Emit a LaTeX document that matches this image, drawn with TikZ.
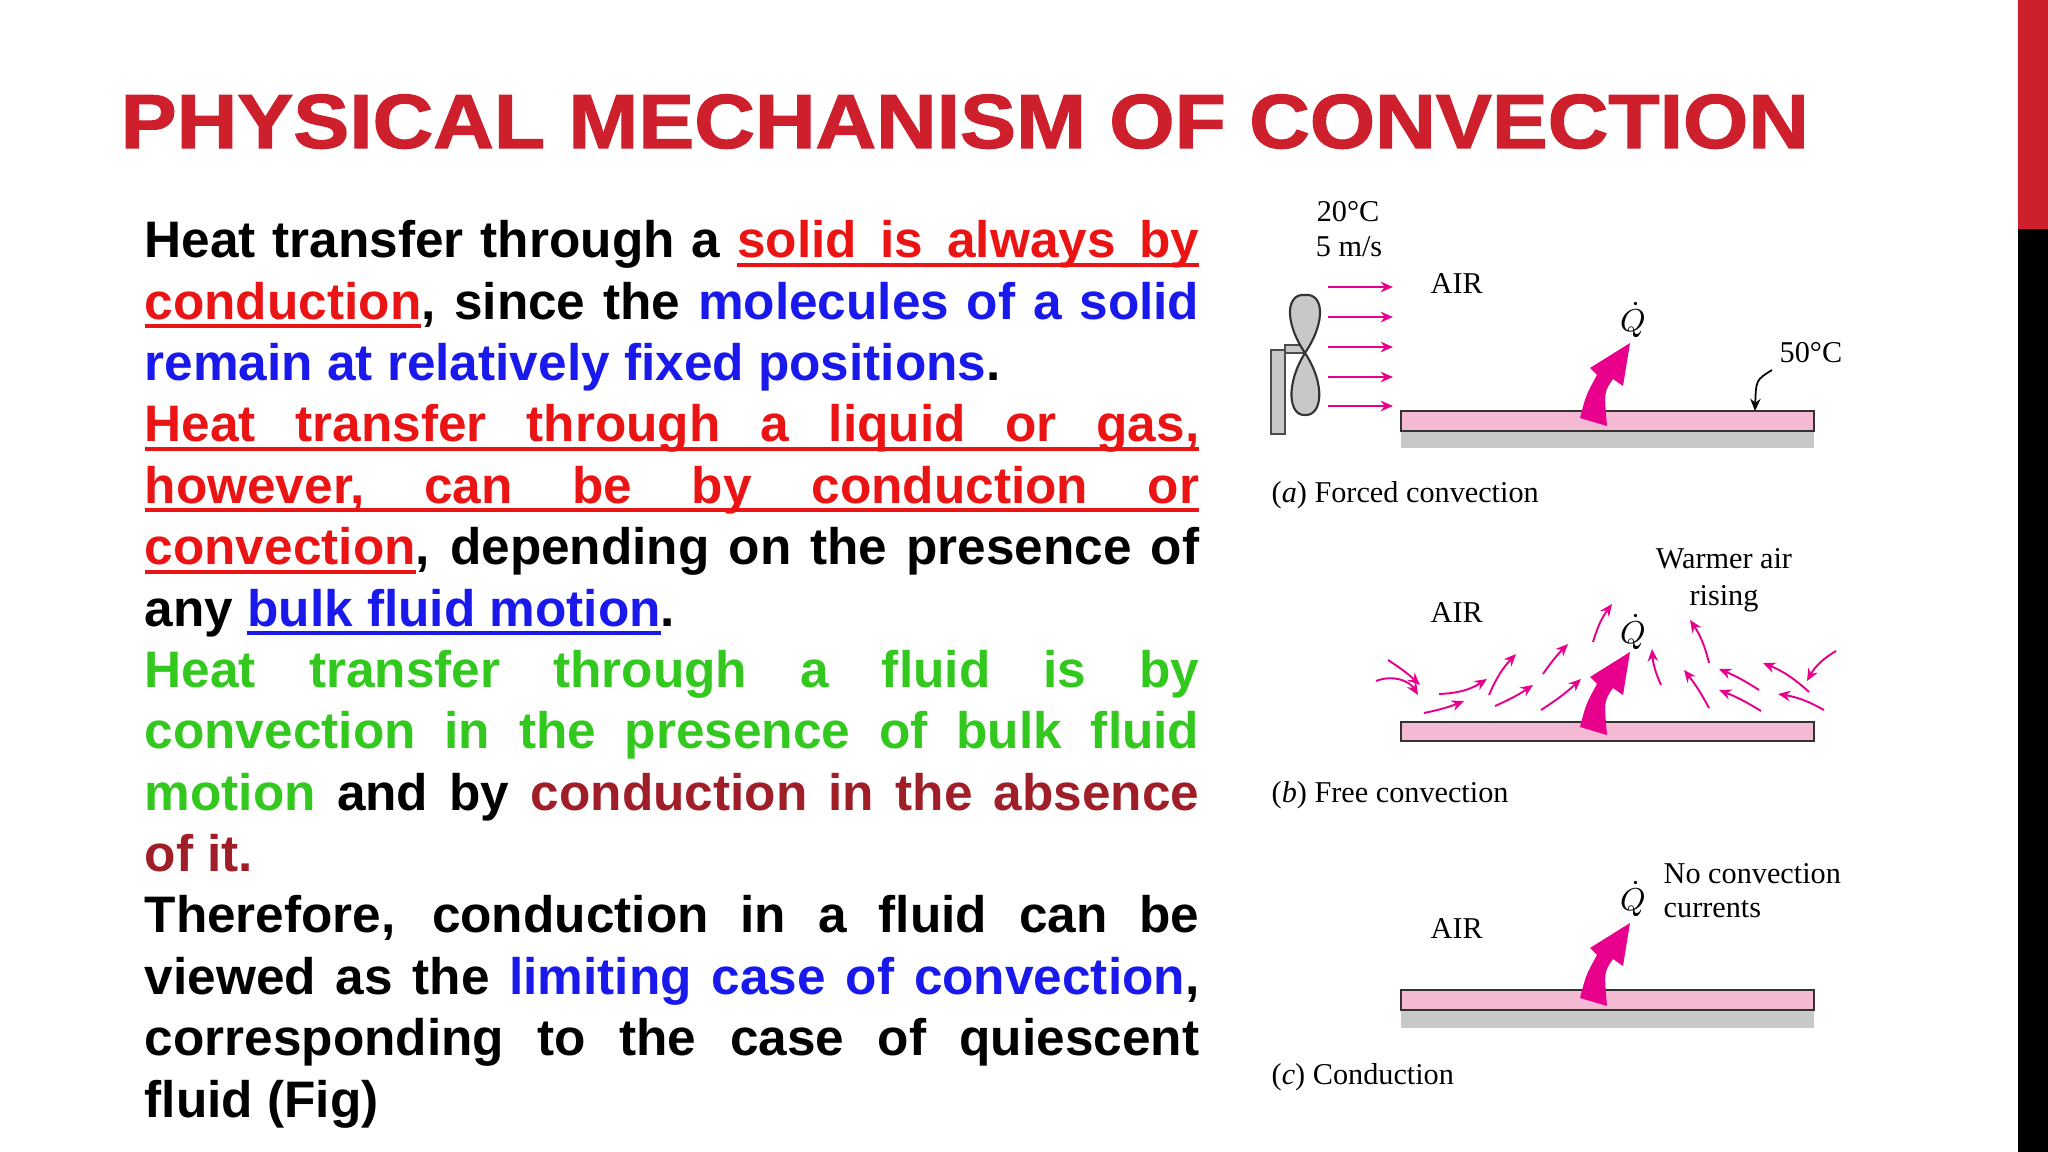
\documentclass[tikz,border=0pt]{standalone}
\usepackage{fontspec}
\setmainfont{Liberation Sans}
\newfontfamily\figfont{Liberation Serif}
\newfontfamily\titlefont[FakeBold=1.5]{Liberation Sans Bold}
\usetikzlibrary{arrows.meta}
\definecolor{titred}{RGB}{205,32,44}
\definecolor{tred}{RGB}{235,20,20}
\definecolor{tblue}{RGB}{25,25,235}
\definecolor{tgreen}{RGB}{50,200,30}
\definecolor{tdark}{RGB}{160,30,40}
\definecolor{mag}{RGB}{232,0,140}
\definecolor{plate}{RGB}{244,186,212}
\definecolor{pgray}{RGB}{200,200,200}
\newcommand{\uw}[1]{\setbox0\hbox{#1}\rlap{\vrule height -1.4pt depth 2.5pt width\wd0}\box0}
\newcommand{\us}{\leaders\hrule height -1.4pt depth 2.5pt\hskip 0.278em plus 0.5em minus 0.1em\relax}
\newcommand{\qarrow}[1]{\fill[mag,shift={#1}] (-14,-2) .. controls (-8,-25) .. (3,-45) -- (-4,-52) -- (36,-77) -- (29,-34) -- (19,-41) .. controls (10,-28) .. (13,6) -- cycle;}
\tikzset{
  fig/.style={font=\figfont\fontsize{8.6pt}{10pt}\selectfont, inner sep=0pt},
  qlab/.style={inner sep=0pt, font=\fontsize{9pt}{10pt}\selectfont},
  flow/.style={mag, line width=0.55pt, -{Stealth[length=3.5pt,width=3pt]}},
  platebox/.style={draw=black!80, fill=plate, line width=0.6pt},
}
\begin{document}
\begin{tikzpicture}[x=0.01cm,y=-0.01cm]
\useasboundingbox (0,0) rectangle (2048,1152);
\fill[white] (0,0) rectangle (2048,1152);
\fill[titred] (2018,0) rectangle (2048,229);
\fill[black] (2018,229) rectangle (2048,1152);
\node[anchor=base west, inner sep=0pt, text=titred, font=\titlefont\fontsize{21.8pt}{24pt}\selectfont] (title) at (120,148) {\scalebox{1.095}[1]{PHYSICAL MECHANISM OF CONVECTION}};
\node[anchor=north west, inner sep=0pt, text width=10.54cm, align=justify,
  font=\bfseries\fontsize{14.6pt}{17.45pt}\selectfont] (body) at (144,220) {%
Heat transfer through a \textcolor{tred}{\uw{solid}\us\uw{is}\us\uw{always}\us\uw{by}}\linebreak
\textcolor{tred}{\uw{conduction}}, since the \textcolor{tblue}{molecules of a solid}\linebreak
\textcolor{tblue}{remain at relatively fixed positions}.\par
\textcolor{tred}{\uw{Heat}\us\uw{transfer}\us\uw{through}\us\uw{a}\us\uw{liquid}\us\uw{or}\us\uw{gas,}}\linebreak
\textcolor{tred}{\uw{however,}\us\uw{can}\us\uw{be}\us\uw{by}\us\uw{conduction}\us\uw{or}}\linebreak
\textcolor{tred}{\uw{convection}}, depending on the presence of\linebreak
any \textcolor{tblue}{\uw{bulk}\us\uw{fluid}\us\uw{motion}}.\par
\textcolor{tgreen}{Heat transfer through a fluid is by}\linebreak
\textcolor{tgreen}{convection in the presence of bulk fluid}\linebreak
\textcolor{tgreen}{motion} and by \textcolor{tdark}{conduction in the absence}\linebreak
\textcolor{tdark}{of it.}\par
Therefore, conduction in a fluid can be\linebreak
viewed as the \textcolor{tblue}{limiting case of convection},\linebreak
corresponding to the case of quiescent\linebreak
fluid (Fig)\par};
% ---------- (a) forced
\node[fig, anchor=base] (t20) at (1348,222) {20°C};
\node[fig, anchor=base] (v5) at (1349,257) {5 m/s};
\foreach \yy/\nm in {287/a1,317/a2,347/a3,377/a4,406/a5}{
  \coordinate (\nm s) at (1328,\yy); \coordinate (\nm e) at (1393,\yy);
  \draw[flow] (\nm s) -- (\nm e);}
\node[fig, anchor=base west] (aira) at (1430,294) {AIR};
\fill[pgray, draw=black!70, line width=0.4pt] (1271,350) rectangle (1285,434);
\fill[pgray, draw=black!70, line width=0.4pt] (1285,345) rectangle (1305,353);
\filldraw[pgray, draw=black!80, line width=0.6pt] (1305,353) .. controls (1283,320) and (1287,293) .. (1305,295) .. controls (1323,293) and (1327,320) .. (1305,353)
  .. controls (1285,385) and (1289,416) .. (1305,415) .. controls (1322,416) and (1326,385) .. (1305,353);
\fill[pgray] (1401,431) rectangle (1814,448);
\draw[platebox] (1401,411) rectangle (1814,431);
\qarrow{(1594,420)}
\node[qlab] (qa) at (1633,320) {$\dot{Q}$};
\node[fig, anchor=base west] (t50) at (1779,363) {50°C};
\coordinate (pa) at (1755,411);
\draw[black, line width=0.5pt, -{Stealth[length=3.5pt,width=3pt]}] (1772,370) .. controls (1756,380) .. (pa);
\node[fig, anchor=base west] (capa) at (1271,503) {(\textit{a}) Forced convection};
% ---------- (b) free
\node[fig, anchor=base west] (airb) at (1430,623) {AIR};
\node[fig, anchor=base] (warm) at (1724,568) {Warmer air};
\node[fig, anchor=base] (rising) at (1724,605) {rising};
\draw[platebox] (1401,722) rectangle (1814,741);
\qarrow{(1594,729)}
\node[qlab] (qb) at (1633,632) {$\dot{Q}$};
\foreach \ax/\ay/\bx/\by/\bend in {
 1388/660/1420/685/5, 1376/681/1418/695/40, 1439/694/1487/679/-15, 1424/713/1464/701/-5,
 1489/695/1516/654/10, 1495/706/1533/685/-5, 1543/674/1568/644/5, 1541/710/1581/679/-5,
 1593/642/1612/604/10, 1661/685/1652/649/10, 1709/663/1690/620/-10, 1709/708/1684/670/-5,
 1759/690/1719/669/-5, 1761/711/1719/690/-5, 1809/692/1763/663/-10, 1824/710/1778/694/-10,
 1836/651/1807/681/-15}{
  \coordinate (fs) at (\ax,\ay); \coordinate (fe) at (\bx,\by);
  \draw[flow] (fs) to[bend left=\bend] (fe);}
\node[fig, anchor=base west] (capb) at (1271,802) {(\textit{b}) Free convection};
% ---------- (c) conduction
\node[fig, anchor=base west] (airc) at (1430,938) {AIR};
\node[fig, anchor=base west] (noc) at (1663,883) {No convection};
\node[fig, anchor=base west] (cur) at (1663,917) {currents};
\fill[pgray] (1401,1010) rectangle (1814,1028);
\draw[platebox] (1401,990) rectangle (1814,1010);
\qarrow{(1594,1000)}
\node[qlab] (qc) at (1633,899) {$\dot{Q}$};
\node[fig, anchor=base west] (capc) at (1271,1084) {(\textit{c}) Conduction};
\end{tikzpicture}
\end{document}
